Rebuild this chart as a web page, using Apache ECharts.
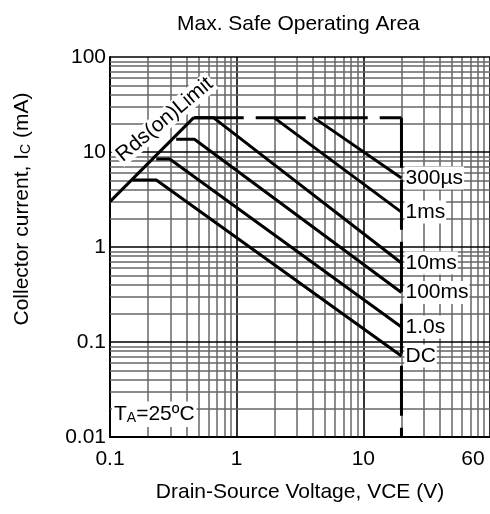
<!DOCTYPE html>
<html><head><meta charset="utf-8">
<script src="https://cdn.jsdelivr.net/npm/echarts@6/dist/echarts.min.js"></script>
<style>html,body{margin:0;padding:0;background:#fff}#c{width:490px;height:514px}</style>
</head><body><div id="c"></div><script>
// ---- data (VCE in V, IC in mA) ----
const xTickLabels = [0.1, 1, 10, 60];
const curveNames = ['300µs', '1ms', '10ms', '100ms', '1.0s', 'DC'];
const rdsLimit = [[0.1, 3.0], [0.458, 23]];
const currentLimit = [[0.458, 23], [20, 23]];
const voltageLimit = [[20, 23], [20, 0.01]];
const curve300us = [[4.06, 23], [20, 5.32]];
const curve1ms = [[1.97, 23], [20, 2.33]];
const curve10ms = [[0.458, 23], [0.655, 23], [20, 0.679]];
const curve100ms = [[0.333, 13.6], [0.464, 13.6], [20, 0.332]];
const curve1s = [[0.232, 8.43], [0.296, 8.43], [20, 0.144]];
const curveDC = [[0.151, 5.07], [0.232, 5.07], [20, 0.0713]];
const curves = [curve300us, curve1ms, curve10ms, curve100ms, curve1s, curveDC];

const FONT = '"Liberation Sans", Arial, sans-serif';
const chart = echarts.init(document.getElementById('c'));

function logGrid(expFrom, expTo) {
  const out = [];
  for (let e = expFrom; e < expTo; e++) {
    for (let k = 1; k <= 9; k++) out.push({v: Number((k * Math.pow(10, e)).toPrecision(6)), major: k === 1});
  }
  out.push({v: Math.pow(10, expTo), major: true});
  return out;
}
const gx = logGrid(-1, 2), gy = logGrid(-2, 2);
const gridLines = [];
gx.forEach(g => gridLines.push({xAxis: g.v, lineStyle: {color: g.major ? '#000' : '#666', width: g.major ? 1.6 : 1.5, type: 'solid'}}));
gy.forEach(g => gridLines.push({yAxis: g.v, lineStyle: {color: g.major ? '#000' : '#666', width: g.major ? 1.6 : 1.5, type: 'solid'}}));

const series = [];
series.push({
  type: 'line', data: [[0.1, 0.01]], symbol: 'none', z: 1, silent: true,
  lineStyle: {width: 0},
  markLine: {silent: true, symbol: 'none', z: 1, label: {show: false}, animation: false, data: gridLines}
});
series.push({
  name: 'Rds(on)Limit', type: 'line', data: rdsLimit, symbol: 'none', z: 5,
  lineStyle: {color: '#000', width: 3},
  markPoint: {
    symbol: 'circle', symbolSize: 0, z: 6,
    label: {show: true, position: 'inside', formatter: 'Rds(on)Limit', rotate: 40, color: '#000',
      fontSize: 21, fontFamily: FONT, backgroundColor: '#fff', padding: [0, 2]},
    data: [{coord: [0.27, 22]}]
  }
});
series.push({type: 'line', data: currentLimit, symbol: 'none', z: 4, lineStyle: {color: '#000', width: 3, type: [50, 12]}});
series.push({type: 'line', data: voltageLimit, symbol: 'none', z: 4, lineStyle: {color: '#000', width: 3, type: [50, 12]}});
curves.forEach((d, i) => series.push({
  name: curveNames[i], type: 'line', data: d, symbol: 'none', z: 5,
  lineStyle: {color: '#000', width: 3},
  endLabel: {show: true, formatter: p => p.seriesName, color: '#000', fontSize: 21, fontFamily: FONT,
    backgroundColor: '#fff', padding: [1, 1], distance: 3}
}));

chart.setOption({
  animation: false,
  backgroundColor: '#fff',
  title: [
    {text: 'Max. Safe Operating Area', left: 172, top: 9,
      textStyle: {fontSize: 21, fontWeight: 'normal', color: '#000', fontFamily: FONT}},
    {text: '{t|T}{s|A}{t|=25ºC}', left: 112, top: 401, backgroundColor: '#fff', padding: [2, 2],
      textStyle: {fontWeight: 'normal', rich: {
        t: {fontSize: 21, fontWeight: 'normal', color: '#000', fontFamily: FONT},
        s: {fontSize: 14, fontWeight: 'normal', color: '#000', fontFamily: FONT, verticalAlign: 'bottom', padding: [8, 0, 0, 0]}
      }}}
  ],
  grid: {left: 110, top: 57, width: 382.5, height: 380, containLabel: false},
  xAxis: {
    type: 'log', logBase: 10, min: 0.1, max: 100,
    name: 'Drain-Source Voltage, VCE (V)', nameLocation: 'middle', nameGap: 45,
    nameTextStyle: {fontSize: 21, color: '#000', fontFamily: FONT},
    axisLine: {show: true, lineStyle: {color: '#000', width: 2}},
    axisTick: {show: false}, splitLine: {show: false}, minorSplitLine: {show: false},
    axisLabel: {customValues: xTickLabels, fontSize: 21, color: '#000', fontFamily: FONT, margin: 12,
      formatter: v => (Math.abs(v - 60) < 1e-6 ? '{r|60}' : String(v)),
      rich: {r: {fontSize: 21, color: '#000', fontFamily: FONT, padding: [0, 0, 0, 22]}}}
  },
  yAxis: {
    type: 'log', logBase: 10, min: 0.01, max: 100,
    name: 'Collector current, I{sub|C} (mA)', nameLocation: 'middle', nameGap: 77, nameRotate: 90,
    nameTextStyle: {fontSize: 21, color: '#000', fontFamily: FONT, padding: [0, 0, 0, 76],
      rich: {sub: {fontSize: 14, color: '#000', fontFamily: FONT, verticalAlign: 'bottom', padding: [8, 0, 0, 0]}}},
    axisLine: {show: true, lineStyle: {color: '#000', width: 2}},
    axisTick: {show: false}, splitLine: {show: false},
    axisLabel: {fontSize: 21, color: '#000', fontFamily: FONT, margin: 4}
  },
  series: series
});
</script></body></html>
